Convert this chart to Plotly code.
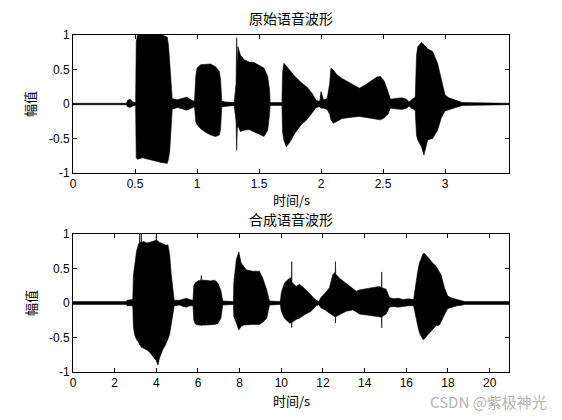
import plotly.graph_objects as go

# envelope of the original waveform (time in s, upper / lower peak amplitude)
orig_t = [0.00, 0.43, 0.44, 0.46, 0.48, 0.505, 0.51, 0.52, 0.56, 0.60, 0.64, 0.68, 0.72, 0.76, 0.77, 0.78, 0.79, 0.80,
          0.84, 0.88, 0.92, 0.95, 0.98, 0.99, 1.00, 1.03, 1.07, 1.11, 1.15, 1.18, 1.19, 1.20, 1.23, 1.30,
          1.315, 1.32, 1.325, 1.33, 1.35, 1.38, 1.42, 1.46, 1.50, 1.54, 1.57, 1.585, 1.59, 1.685,
          1.69, 1.70, 1.72, 1.75, 1.79, 1.84, 1.89, 1.93, 1.96, 1.99, 2.00, 2.02, 2.05,
          2.07, 2.08, 2.10, 2.13, 2.17, 2.21, 2.26, 2.31, 2.36, 2.41, 2.45, 2.48, 2.51, 2.54, 2.56,
          2.60, 2.65, 2.69, 2.71, 2.73, 2.75, 2.76, 2.77, 2.78, 2.81, 2.83, 2.86, 2.90, 2.94, 2.97, 3.00,
          3.03, 3.06, 3.10, 3.14, 3.516]
orig_up = [0.01, 0.01, 0.05, 0.07, 0.03, 0.02, 0.90, 1.00, 1.00, 1.00, 1.00, 1.00, 1.00, 0.97, 0.85, 0.60, 0.38, 0.08,
           0.06, 0.08, 0.10, 0.06, 0.04, 0.40, 0.52, 0.57, 0.58, 0.58, 0.54, 0.47, 0.35, 0.04, 0.03, 0.02,
           0.30, 0.96, 0.50, 0.83, 0.71, 0.64, 0.61, 0.60, 0.56, 0.52, 0.40, 0.20, 0.02, 0.02,
           0.45, 0.59, 0.55, 0.48, 0.40, 0.31, 0.24, 0.15, 0.05, 0.04, 0.18, 0.06, 0.08,
           0.30, 0.52, 0.49, 0.42, 0.37, 0.33, 0.27, 0.23, 0.28, 0.34, 0.39, 0.40, 0.33, 0.18, 0.07,
           0.08, 0.09, 0.07, 0.03, 0.06, 0.08, 0.10, 0.70, 0.83, 0.89, 0.86, 0.80, 0.76, 0.59, 0.35, 0.13,
           0.09, 0.07, 0.04, 0.02, 0.01]
orig_lo = [-0.01, -0.01, -0.04, -0.05, -0.03, -0.02, -0.78, -0.80, -0.78, -0.80, -0.82, -0.83, -0.85, -0.86, -0.80, -0.68, -0.45, -0.08,
           -0.05, -0.07, -0.09, -0.06, -0.04, -0.25, -0.30, -0.36, -0.41, -0.45, -0.47, -0.45, -0.36, -0.04, -0.03, -0.02,
           -0.25, -0.67, -0.35, -0.32, -0.40, -0.38, -0.37, -0.40, -0.44, -0.47, -0.38, -0.15, -0.02, -0.02,
           -0.40, -0.52, -0.62, -0.55, -0.42, -0.30, -0.22, -0.12, -0.05, -0.04, -0.06, -0.06, -0.08,
           -0.15, -0.23, -0.28, -0.25, -0.21, -0.20, -0.19, -0.18, -0.19, -0.21, -0.22, -0.23, -0.20, -0.15, -0.06,
           -0.07, -0.08, -0.06, -0.03, -0.06, -0.08, -0.10, -0.45, -0.52, -0.62, -0.74, -0.52, -0.50, -0.38, -0.20, -0.10,
           -0.08, -0.06, -0.04, -0.02, -0.01]

# envelope of the synthesised waveform
syn_t = [0.00, 2.55, 2.60, 2.80, 2.87, 2.90, 2.96, 3.05, 3.15, 3.19, 3.20, 3.21, 3.27, 3.28, 3.29, 3.40, 3.55, 3.70,
         3.85, 3.99, 4.00, 4.01, 4.08, 4.15, 4.30, 4.45, 4.56, 4.64, 4.72, 4.80, 4.86,
         5.10, 5.30, 5.45, 5.60, 5.76, 5.80, 5.86, 6.00, 6.14, 6.16, 6.18, 6.40, 6.60, 6.80, 6.95, 7.10, 7.19, 7.70,
         7.72, 7.84, 7.96, 8.07, 8.20, 8.32, 8.63, 8.95, 9.11, 9.30, 9.43, 9.95,
         10.00, 10.15, 10.39, 10.49, 10.50, 10.51, 10.71, 10.87, 11.11, 11.43, 11.67, 11.80,
         11.90, 12.10, 12.31, 12.47, 12.59, 12.60, 12.61, 12.79, 12.95, 13.11, 13.43, 13.60, 13.75, 14.07, 14.39,
         14.71, 14.81, 14.82, 14.83, 15.03, 15.19, 15.40, 15.60, 15.85, 16.10, 16.35,
         16.40, 16.47, 16.55, 16.63, 16.71, 16.80, 16.87, 17.03, 17.11, 17.27, 17.43, 17.59, 17.67, 17.83, 17.99,
         18.20, 18.45, 18.70, 18.80, 20.93]
syn_up = [0.02, 0.02, 0.04, 0.05, 0.05, 0.40, 0.56, 0.75, 0.86, 0.87, 1.00, 0.87, 0.88, 1.00, 0.88, 0.89, 0.87, 0.88,
          0.90, 0.91, 0.98, 0.91, 0.90, 0.88, 0.86, 0.84, 0.84, 0.70, 0.40, 0.15, 0.04,
          0.04, 0.06, 0.07, 0.05, 0.04, 0.25, 0.29, 0.32, 0.33, 0.40, 0.33, 0.33, 0.32, 0.33, 0.29, 0.18, 0.03, 0.02,
          0.30, 0.63, 0.74, 0.58, 0.52, 0.48, 0.46, 0.46, 0.36, 0.19, 0.03, 0.02,
          0.15, 0.29, 0.36, 0.36, 0.60, 0.30, 0.24, 0.27, 0.21, 0.12, 0.04, 0.02,
          0.08, 0.14, 0.22, 0.41, 0.45, 0.60, 0.42, 0.36, 0.32, 0.29, 0.21, 0.17, 0.19, 0.21, 0.23,
          0.24, 0.22, 0.45, 0.22, 0.20, 0.08, 0.06, 0.07, 0.05, 0.06, 0.05,
          0.15, 0.35, 0.46, 0.58, 0.65, 0.71, 0.72, 0.66, 0.63, 0.58, 0.53, 0.45, 0.41, 0.22, 0.10,
          0.07, 0.05, 0.03, 0.02, 0.02]
syn_lo = [-0.02, -0.02, -0.04, -0.04, -0.05, -0.35, -0.46, -0.53, -0.57, -0.60, -0.60, -0.61, -0.63, -0.64, -0.64, -0.66, -0.68, -0.72,
          -0.78, -0.83, -0.85, -0.85, -0.90, -0.80, -0.68, -0.60, -0.52, -0.45, -0.32, -0.15, -0.04,
          -0.03, -0.05, -0.06, -0.04, -0.04, -0.25, -0.30, -0.32, -0.32, -0.33, -0.32, -0.32, -0.32, -0.31, -0.30, -0.22, -0.03, -0.02,
          -0.20, -0.29, -0.39, -0.34, -0.32, -0.31, -0.31, -0.31, -0.28, -0.22, -0.03, -0.02,
          -0.12, -0.22, -0.29, -0.29, -0.36, -0.28, -0.24, -0.22, -0.17, -0.12, -0.04, -0.02,
          -0.07, -0.10, -0.14, -0.18, -0.20, -0.29, -0.20, -0.17, -0.14, -0.12, -0.10, -0.13, -0.16, -0.17, -0.19,
          -0.20, -0.21, -0.36, -0.20, -0.16, -0.06, -0.05, -0.06, -0.05, -0.04, -0.04,
          -0.12, -0.22, -0.33, -0.43, -0.48, -0.53, -0.52, -0.46, -0.42, -0.38, -0.33, -0.32, -0.28, -0.17, -0.08,
          -0.06, -0.04, -0.03, -0.02, -0.02]

y_ticks = [-1, -0.5, 0, 0.5, 1]
y_labels = ["-1", "-0.5", "0", "0.5", "1"]
orig_xticks = [0, 0.5, 1, 1.5, 2, 2.5, 3]
orig_xlabels = ["0", "0.5", "1", "1.5", "2", "2.5", "3"]
syn_xticks = [0, 2, 4, 6, 8, 10, 12, 14, 16, 18, 20]

CJK = "Noto Sans CJK SC"
NUM = "Liberation Sans"


def wave(t, up, lo, xa, ya):
    return go.Scatter(
        x=list(t) + list(t)[::-1], y=list(up) + list(lo)[::-1],
        xaxis=xa, yaxis=ya, mode="lines", fill="toself",
        fillcolor="black", line={"color": "black", "width": 0.6},
        hoverinfo="skip", showlegend=False,
    )


fig = go.Figure()
fig.add_trace(wave(orig_t, orig_up, orig_lo, "x", "y"))
fig.add_trace(wave(syn_t, syn_up, syn_lo, "x2", "y2"))

axis_style = dict(
    showline=True, linecolor="black", linewidth=1, mirror="ticks",
    ticks="inside", ticklen=4, tickcolor="black", showgrid=False, zeroline=False,
    tickfont={"family": NUM, "size": 12, "color": "black"},
)

# page has an 8px body margin; plot area in page px: x 73..509, y 35..372
def py(p):
    return (372 - p) / 337


def px(p):
    return (p - 73) / 436


fig.update_layout(
    width=554, height=412,
    margin={"l": 65, "r": 53, "t": 27, "b": 48},
    plot_bgcolor="white", paper_bgcolor="white",
    xaxis=dict(axis_style, domain=[0, 1], range=[0, 3.516], anchor="y",
               tickvals=orig_xticks, ticktext=orig_xlabels),
    yaxis=dict(axis_style, domain=[py(173), 1], range=[-1, 1], anchor="x",
               tickvals=y_ticks, ticktext=y_labels),
    xaxis2=dict(axis_style, domain=[0, 1], range=[0, 20.93], anchor="y2",
                tickvals=syn_xticks),
    yaxis2=dict(axis_style, domain=[0, py(234)], range=[-1, 1], anchor="x2",
                tickvals=y_ticks, ticktext=y_labels),
)

notes = [
    ("原始语音波形", 0.5, py(18), 0, 14),
    ("合成语音波形", 0.5, py(219), 0, 14),
    ("时间/s", 0.5, py(199), 0, 13),
    ("时间/s", 0.5, py(400), 0, 13),
    ("幅值", px(30), py(104), -90, 13),
    ("幅值", px(30), py(303), -90, 13),
]
for text, x, y, ang, size in notes:
    fig.add_annotation(text=text, x=x, y=y, xref="paper", yref="paper",
                       showarrow=False, textangle=ang,
                       font={"family": CJK, "size": size, "color": "black"},
                       xanchor="center", yanchor="middle")

fig.add_annotation(text="CSDN @紫极神光", x=px(549), y=py(401), xref="paper", yref="paper",
                   showarrow=False, xanchor="right", yanchor="middle",
                   font={"family": CJK, "size": 15, "color": "#b4b4b4"})

fig.write_html("out.html")
